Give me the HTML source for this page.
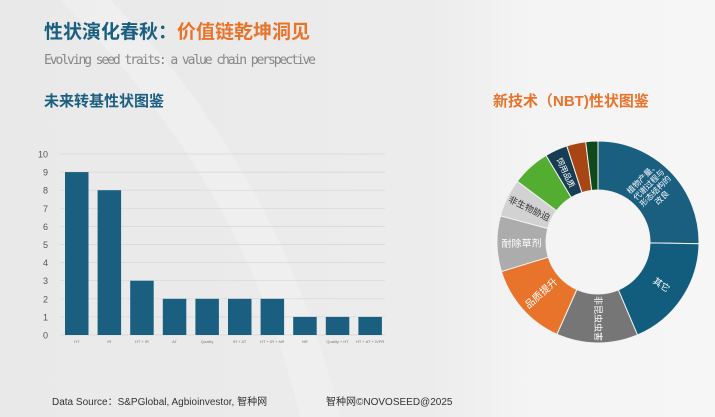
<!DOCTYPE html>
<html><head><meta charset="utf-8"><style>
body{margin:0;width:715px;height:417px;overflow:hidden;font-family:"Liberation Sans","Noto Sans CJK SC",sans-serif;}
</style></head><body>
<svg id="s" width="715" height="417" xmlns="http://www.w3.org/2000/svg" style="display:block">
<defs><linearGradient id="bg" x1="0" y1="0" x2="1" y2="0">
<stop offset="0" stop-color="#e9e9e9"/><stop offset="0.6" stop-color="#ececec"/><stop offset="0.75" stop-color="#f4f4f4"/><stop offset="1" stop-color="#f6f6f6"/></linearGradient></defs>
<rect width="715" height="417" fill="url(#bg)"/>
<path d="M60 0 C180 120 260 250 300 417 L340 417 C300 250 220 110 110 0Z" fill="#f2f2f2" opacity="0.6"/>
<text x="44" y="38" font-size="19" font-weight="bold" fill="#1a5f80" font-family="Liberation Sans,Noto Sans CJK SC,sans-serif">性状演化春秋：<tspan fill="#e8742c">价值链乾坤洞见</tspan></text>
<text x="44" y="64" font-size="13" fill="#888" font-family="DejaVu Sans Mono,Liberation Mono,monospace" textLength="272">Evolving seed traits: a value chain perspective</text>
<text x="44" y="106" font-size="15" font-weight="bold" fill="#1a5f80" font-family="Liberation Sans,Noto Sans CJK SC,sans-serif">未来转基性状图鉴</text>
<text x="493" y="106" font-size="15" font-weight="bold" fill="#e8742c" font-family="Liberation Sans,Noto Sans CJK SC,sans-serif">新技术（NBT)性状图鉴</text>
<g id="bar"></g>
<g id="pie"></g>
<text x="52" y="405" font-size="10" fill="#333" font-family="Liberation Sans,Noto Sans CJK SC,sans-serif">Data Source：S&amp;PGlobal, Agbioinvestor, 智种网</text>
<text x="326" y="405" font-size="10" fill="#333" font-family="Liberation Sans,Noto Sans CJK SC,sans-serif">智种网©NOVOSEED@2025</text>
</svg>
<script>
var NS="http://www.w3.org/2000/svg";
function el(p,t,a,txt){var e=document.createElementNS(NS,t);for(var k in a)e.setAttribute(k,a[k]);if(txt)e.textContent=txt;p.appendChild(e);return e;}
var b=document.getElementById("bar");
var y0=335,u=18.1;
for(var i=0;i<=10;i++){var y=y0-i*u;
 el(b,"line",{x1:60,x2:385,y1:y,y2:y,stroke:"#d6d6d6","stroke-width":0.7});
 el(b,"text",{x:48,y:y+3.5,"font-size":9,fill:"#555","text-anchor":"end"},""+i);}
var v=[9,8,3,2,2,2,2,1,1,1],lab=["HT","IR","HT + IR","AT","Quality","IR + AT","HT + IR + NR","NR","Quality + HT","HT + AT + IVPR"];
for(var i=0;i<10;i++){var x=65+i*32.6;
 el(b,"rect",{x:x,y:y0-v[i]*u,width:23.5,height:v[i]*u,fill:"#1a5f80"});
 el(b,"text",{x:x+11.75,y:343,"font-size":4,fill:"#777","text-anchor":"middle"},lab[i]);}
var p=document.getElementById("pie"),cx=598,cy=242,R=101,r=52;
var seg=[[0,91,"#1a5f80"],[91,157,"#125d7d"],[157,204,"#767676"],[204,253,"#e8742c"],[253,285,"#acacac"],[285,307,"#d2d2d2"],[307,329,"#52ad31"],[329,342,"#163d54"],[342,353,"#a84613"],[353,360,"#0f4a1c"]];
function pt(a,rr){a=a*Math.PI/180;return [cx+rr*Math.sin(a),cy-rr*Math.cos(a)];}
seg.forEach(function(s){var a=pt(s[0],R),c=pt(s[1],R),d=pt(s[1],r),e=pt(s[0],r),lg=(s[1]-s[0])>180?1:0;
 el(p,"path",{d:"M"+a+"A"+R+","+R+" 0 "+lg+" 1 "+c+"L"+d+"A"+r+","+r+" 0 "+lg+" 0 "+e+"Z",fill:s[2],stroke:"#f2f2f2","stroke-width":1});});
var L=[[45,["植物产量、","代谢过程与","形态结构的","改良"],"#fff",8],[124,["其它"],"#fff",9],[180,["非昆虫虫害"],"#fff",9],[228,["品质提升"],"#fff",10],[269,["耐除草剂"],"#fff",10],[296,["非生物胁迫"],"#333",9],[335,["饲用品质"],"#fff",8]];
L.forEach(function(l){var m=pt(l[0],(R+r)/2),rot=l[0]-90;if(l[0]>180)rot=l[0]+90;if(l[0]>250&&l[0]<300)rot=l[0]-270;
 var g=el(p,"g",{transform:"translate("+m+") rotate("+rot+")"});
 var n=l[1].length;l[1].forEach(function(t,j){el(g,"text",{x:0,y:(j-(n-1)/2)*l[3]*1.15+l[3]*0.35,"font-size":l[3],fill:l[2],"text-anchor":"middle"},t);});});
</script>
</body></html>
